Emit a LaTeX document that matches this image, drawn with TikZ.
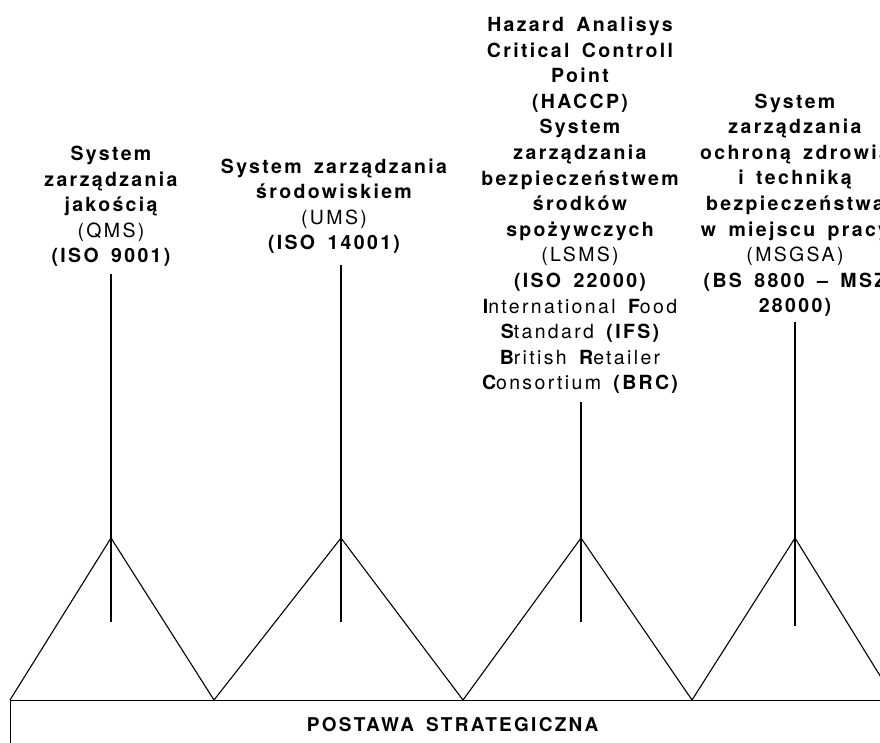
\documentclass[tikz,border=0pt]{standalone}
\usepackage{fontspec}
\setmainfont{TeX Gyre Heros}
\newfontfamily\spacedfont[LetterSpace=12,WordSpace=1.6]{TeX Gyre Heros}
\usetikzlibrary{positioning}
\newcommand{\regtxt}[1]{{\mdseries #1}}
\tikzset{
  stdtext/.style={inner sep=0pt, align=center, anchor=south, font=\spacedfont\bfseries\fontsize{19.5}{25.6}\selectfont},
  stem/.style={line width=1.2pt, shorten <=#1},
  ridge/.style={line width=1.1pt, line join=miter},
  basebox/.style={draw, line width=1.2pt, anchor=north west, inner sep=0pt, minimum width=884pt, text height=31pt, text depth=50pt, font=\spacedfont\bfseries\fontsize{19}{22}\selectfont}
}
\begin{document}
\begin{tikzpicture}[x=1pt, y=-1pt]
\useasboundingbox (0,0) rectangle (880,742);
\clip (0,0) rectangle (880,742);

% strategic base
\node[basebox] (base) at (10,700) {POSTAWA STRATEGICZNA};

% ridge of four systems
\coordinate (v0) at (10,700);
\coordinate (p1) at (111,538);
\coordinate (v1) at (214,700);
\coordinate (p2) at (341,538);
\coordinate (v2) at (463,700);
\coordinate (p3) at (581,538);
\coordinate (v3) at (692,700);
\coordinate (p4) at (795,538);
\coordinate (v4) at (895,700);
\draw[ridge] (v0) -- (p1) -- (v1) -- (p2) -- (v2) -- (p3) -- (v3) -- (p4) -- (v4);

% system labels
\node[stdtext] (qms) at (111,267) {System\\zarządzania\\jakością\\\regtxt{(QMS)}\\(ISO 9001)};
\node[stdtext] (ums) at (334,254) {System zarządzania\\środowiskiem\\\regtxt{(UMS)}\\(ISO 14001)};
\node[stdtext] (lsms) at (580,394) {Hazard Analisys\\Critical Controll\\Point\\(HACCP)\\System\\zarządzania\\bezpieczeństwem\\środków\\spożywczych\\\regtxt{(LSMS)}\\(ISO 22000)\\I\regtxt{nternational} F\regtxt{ood}\\S\regtxt{tandard} (IFS)\\B\regtxt{ritish} R\regtxt{etailer}\\C\regtxt{onsortium} (BRC)};
\node[stdtext] (msgsa) at (795,317) {System\\zarządzania\\ochroną zdrowia\\i techniką\\bezpieczeństwa\\w miejscu pracy\\\regtxt{(MSGSA)}\\(BS 8800 – MSZ\\28000)};

% stems down to the ridge
\coordinate (f1) at (111,622);
\coordinate (f2) at (341,622);
\coordinate (f3) at (581,622);
\coordinate (f4) at (795,626);
\draw[stem=7pt] (qms.south -| p1) -- (f1);
\draw[stem=11pt] (ums.south -| p2) -- (f2);
\draw[stem=8pt] (lsms.south -| p3) -- (f3);
\draw[stem=5pt] (msgsa.south -| p4) -- (f4);
\end{tikzpicture}
\end{document}
